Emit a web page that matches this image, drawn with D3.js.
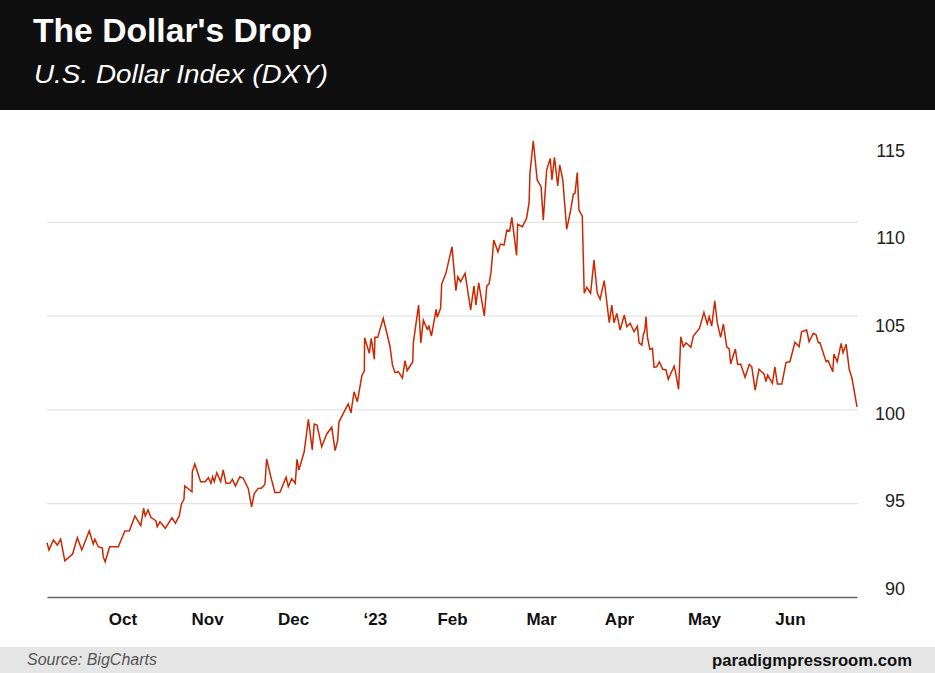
<!DOCTYPE html>
<html>
<head>
<meta charset="utf-8">
<script src="https://cdn.jsdelivr.net/npm/d3@7"></script>
<style>
  html, body { margin: 0; padding: 0; background: #fff; }
  svg { display: block; font-family: "Liberation Sans", Arial, Helvetica, sans-serif; }
</style>
</head>
<body>
<svg id="chart" width="935" height="673"></svg>
<script>
// ---- data ----
const titleText = "The Dollar's Drop";
const subtitleText = "U.S. Dollar Index (DXY)";
const sourceText = "Source: BigCharts";
const siteText = "paradigmpressroom.com";

// day offset from the chart's first session
const days = [
  0, 0.7, 2.3, 3.7, 4.9, 6.4, 9.2, 10.9, 12.5, 15.2,
  16.6, 17.2, 18.4, 19.9, 20.2, 20.9, 22.5, 25.6, 28.0, 29.6,
  31.6, 33.7, 34.7, 35.3, 36.3, 37.3, 39.1, 39.6, 40.6, 42.5,
  44.9, 46.1, 47.5, 48.3, 49.2, 49.5, 52.1, 52.2, 53.1, 55.2,
  56.8, 58.0, 58.9, 59.5, 60.1, 61.0, 62.4, 63.3, 64.3, 65.7,
  66.6, 67.7, 69.3, 70.5, 72.3, 73.5, 74.5, 75.9, 77.1, 78.3,
  78.9, 80.4, 81.9, 83.7, 85.9, 86.7, 87.9, 89.2, 89.8, 90.5,
  92.4, 93.9, 95.3, 96.0, 97.0, 98.7, 100.5, 102.3, 103.5, 104.4,
  104.9, 108.2, 109.2, 110.3, 111.5, 113.1, 114.0, 114.1, 115.8, 116.5,
  117.6, 117.8, 118.8, 120.8, 123.2, 124.1, 125.0, 126.2, 127.7, 128.6,
  129.4, 131.4, 131.6, 133.5, 134.3, 135.2, 136.6, 137.2, 138.1, 139.8,
  140.2, 141.4, 141.8, 143.3, 145.5, 146.9, 147.6, 148.6, 150.2, 152.2,
  153.4, 154.1, 155.1, 157.1, 158.0, 158.8, 159.5, 160.5, 162.0, 162.9,
  164.2, 165.2, 166.2, 167.0, 168.7, 169.1, 170.8, 172.3, 173.2, 173.5,
  174.7, 176.1, 177.5, 178.3, 179.5, 180.8, 181.4, 182.3, 183.5, 184.2,
  185.3, 186.7, 188.1, 189.1, 189.7, 190.5, 191.1, 192.3, 193.0, 193.9,
  195.3, 196.5, 197.7, 198.7, 200.2, 202.0, 202.9, 203.7, 204.7, 205.9,
  207.4, 208.3, 209.5, 210.9, 212.1, 212.7, 213.7, 214.2, 214.8, 215.2,
  215.7, 216.6, 217.5, 218.1, 219.0, 220.0, 221.2, 222.4, 223.2, 225.3,
  225.9, 226.9, 227.7, 228.6, 229.6, 231.3, 232.2, 234.4, 236.0, 237.2,
  237.9, 238.8, 239.9, 240.8, 242.0, 243.0, 244.2, 245.1, 245.6, 247.3,
  248.1, 249.2, 250.8, 252.3, 253.2, 254.4, 255.8, 257.6, 258.3, 258.9,
  260.6, 261.5, 262.4, 264.0, 265.5, 266.9, 268.7, 270.2, 271.1, 272.9,
  273.8, 275.3, 276.3, 277.1, 277.7, 279.9, 280.6, 282.3, 282.7, 283.9,
  285.3, 286.0, 287.1, 288.2, 289.2, 291.0
];
const dxy = [
  92.89, 92.51, 93.04, 92.77, 93.08, 91.93, 92.29, 93.16, 92.51, 93.53,
  92.82, 93.08, 92.68, 92.61, 92.15, 91.87, 92.68, 92.68, 93.52, 93.53,
  94.32, 93.80, 94.73, 94.32, 94.64, 94.25, 94.07, 93.75, 94.01, 93.66,
  94.23, 93.93, 94.32, 94.96, 95.21, 95.92, 95.61, 96.68, 97.09, 96.15,
  96.15, 96.36, 96.06, 96.41, 96.15, 96.63, 96.15, 96.77, 96.06, 96.06,
  96.27, 95.92, 96.41, 96.33, 95.79, 94.81, 95.53, 95.79, 95.81, 96.01,
  97.36, 96.41, 95.56, 95.58, 96.38, 95.88, 96.31, 96.06, 97.34, 96.77,
  97.74, 99.47, 97.84, 99.22, 99.17, 98.01, 98.69, 99.05, 97.80, 98.33,
  99.34, 100.29, 99.82, 100.94, 100.41, 101.78, 102.05, 103.82, 102.99, 103.79,
  102.67, 103.84, 103.84, 104.86, 103.38, 102.37, 101.96, 102.01, 101.66, 102.60,
  102.06, 102.54, 103.55, 105.56, 103.55, 104.76, 104.27, 104.44, 103.91, 105.33,
  104.91, 105.39, 106.68, 107.25, 108.67, 106.33, 107.07, 106.81, 107.25, 105.30,
  106.58, 105.56, 106.75, 104.98, 106.58, 106.68, 107.29, 109.03, 108.40, 108.81,
  108.76, 109.56, 109.51, 110.24, 108.21, 109.87, 109.74, 110.19, 111.02, 112.58,
  114.32, 112.23, 111.87, 110.09, 112.76, 113.38, 112.23, 113.44, 111.91, 113.03,
  112.23, 109.60, 110.59, 111.48, 111.52, 112.62, 110.63, 110.31, 106.19, 106.51,
  106.19, 107.96, 106.19, 105.87, 106.86, 104.62, 105.56, 104.62, 105.12, 104.23,
  105.03, 104.41, 104.59, 104.14, 104.44, 103.55, 103.43, 103.96, 104.23, 104.94,
  103.87, 103.20, 103.26, 102.24, 102.27, 102.53, 102.14, 102.10, 101.60, 102.31,
  101.92, 101.07, 103.87, 103.34, 103.55, 103.31, 103.91, 104.32, 105.17, 104.55,
  104.94, 104.44, 105.79, 104.62, 103.84, 104.55, 103.34, 103.23, 102.42, 103.22,
  102.40, 102.42, 101.71, 102.40, 102.27, 101.03, 102.14, 101.89, 101.48, 101.83,
  101.39, 102.27, 101.35, 101.35, 102.51, 102.54, 103.58, 103.34, 104.14, 104.23,
  103.61, 104.06, 103.98, 103.55, 103.55, 102.54, 102.60, 102.01, 102.95, 102.54,
  103.52, 103.02, 103.47, 102.14, 101.66, 100.14
];

const monthLabels = ["Oct", "Nov", "Dec", "\u201823", "Feb", "Mar", "Apr", "May", "Jun"];
const monthDays   = [27.1, 57.5, 88.4, 117.8, 145.5, 177.5, 205.5, 236.0, 266.9];

const gridValues  = [95, 100, 105, 110];
const yTickValues = [90, 95, 100, 105, 110, 115];

// ---- layout ----
const W = 935, H = 673;
const plot = { left: 47, right: 857, top: 128, bottom: 597 };

const svg = d3.select("#chart");

// header
svg.append("rect").attr("x", 0).attr("y", 0).attr("width", W).attr("height", 110).attr("fill", "#0f0f0f");
svg.append("text").attr("x", 33).attr("y", 42)
  .attr("fill", "#fff").attr("font-size", 33).attr("font-weight", "bold")
  .attr("textLength", 279).attr("lengthAdjust", "spacingAndGlyphs")
  .text(titleText);
svg.append("text").attr("x", 34).attr("y", 83)
  .attr("fill", "#fff").attr("font-size", 25.5).attr("font-style", "italic")
  .attr("textLength", 294).attr("lengthAdjust", "spacingAndGlyphs")
  .text(subtitleText);

// scales
const x = d3.scaleLinear().domain([0, 291]).range([plot.left, plot.right]);
const y = d3.scaleLinear().domain([90, 115]).range([plot.bottom, plot.top]);
// the labels on the right are spaced slightly differently from the grid in the original
const yLab = d3.scaleLinear().domain([90, 115]).range([588.5, 150.5]);

// gridlines
const grid = svg.append("g").attr("transform", `translate(${plot.left},0)`)
  .call(d3.axisLeft(y).tickValues(gridValues).tickSize(-(plot.right - plot.left + 1)).tickFormat(""));
grid.select(".domain").remove();
grid.selectAll(".tick line").attr("stroke", "#e3e3e3").attr("stroke-width", 1.2);

// right labels
const yAx = svg.append("g").attr("transform", `translate(905,0)`)
  .call(d3.axisLeft(yLab).tickValues(yTickValues).tickSize(0).tickPadding(0).tickFormat(d3.format("d")));
yAx.select(".domain").remove();
yAx.selectAll("text").attr("font-size", 18).attr("fill", "#222")
  .attr("font-family", "'Liberation Sans', Arial, sans-serif").attr("text-anchor", "end");

// x axis
const xAx = svg.append("g").attr("transform", `translate(0,${plot.bottom})`)
  .call(d3.axisBottom(x).tickValues(monthDays).tickSize(0).tickSizeOuter(0)
    .tickFormat((d, i) => monthLabels[i]));
xAx.select(".domain").attr("stroke", "#666").attr("stroke-width", 1.5);
xAx.selectAll("text").attr("y", 28).attr("dy", 0).attr("font-size", 17).attr("font-weight", "bold")
  .attr("fill", "#111").attr("font-family", "'Liberation Sans', Arial, sans-serif");

// line
const pts = days.map((d, i) => ({ t: d, v: dxy[i] }));
svg.append("path").datum(pts)
  .attr("fill", "none").attr("stroke", "#cc2800").attr("stroke-width", 1.5)
  .attr("stroke-linejoin", "miter")
  .attr("d", d3.line().x(d => x(d.t)).y(d => y(d.v)));

// footer
svg.append("rect").attr("x", 0).attr("y", 647).attr("width", W).attr("height", H - 647).attr("fill", "#e5e5e5");
svg.append("text").attr("x", 27).attr("y", 665)
  .attr("fill", "#555").attr("font-size", 16).attr("font-style", "italic")
  .attr("textLength", 130).attr("lengthAdjust", "spacingAndGlyphs")
  .text(sourceText);
svg.append("text").attr("x", 912).attr("y", 666).attr("text-anchor", "end")
  .attr("fill", "#111").attr("font-size", 16.5).attr("font-weight", "bold")
  .attr("textLength", 200).attr("lengthAdjust", "spacingAndGlyphs")
  .text(siteText);
</script>
</body>
</html>
